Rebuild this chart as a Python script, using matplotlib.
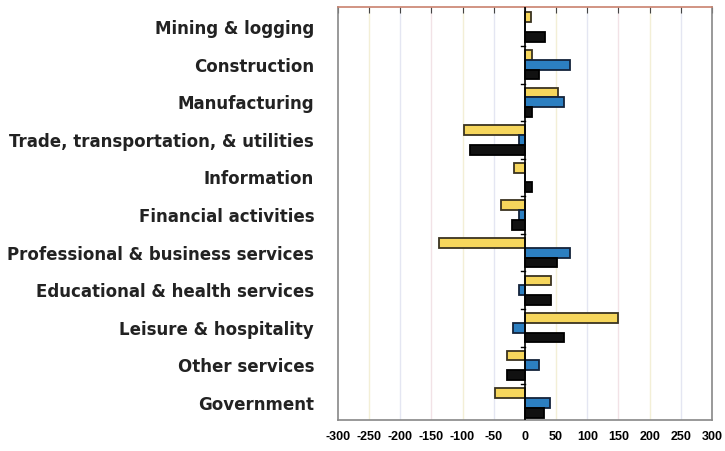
import matplotlib.pyplot as plt
import numpy as np

categories = ["Mining & logging", "Construction", "Manufacturing",
              "Trade, transportation, & utilities", "Information",
              "Financial activities", "Professional & business services",
              "Educational & health services", "Leisure & hospitality",
              "Other services", "Government"]
yellow_vals = [10, 12, 53, -97, -18, -38, -138, 42, 150, -28, -48]
blue_vals = [0, 73, 62, -9, 0, -9, 73, -9, -19, 22, 41]
black_vals = [33, 22, 12, -88, 12, -20, 51, 42, 62, -28, 31]
xticks = list(range(-300, 301, 50))

plt.rcParams['font.family'] = ['Liberation Sans', 'DejaVu Sans']

fig = plt.figure(figsize=(7.25, 4.51), dpi=100)
ax = fig.add_axes([0.466, 0.069, 0.516, 0.915])

y = np.arange(len(categories))
h = 0.26
ax.barh(y - h, yellow_vals, height=h, color='#f6d65c', edgecolor='#3a3320', linewidth=1.3, zorder=3)
ax.barh(y, blue_vals, height=h, color='#2c7fc1', edgecolor='#14233a', linewidth=1.3, zorder=3)
ax.barh(y + h, black_vals, height=h, color='#111111', edgecolor='#000000', linewidth=1.3, zorder=3)

grid_colors = ['#f3efd6', '#e4e6f2', '#f2e2e6']
for i, xv in enumerate(xticks[1:-1]):
    if xv != 0:
        ax.axvline(xv, color=grid_colors[i % 3], linewidth=1.0, zorder=1)
ax.axvline(0, color='black', linewidth=1.2, zorder=4)
for b in np.arange(len(categories) - 1) + 0.5:
    ax.plot([-6, 0], [b, b], color='black', linewidth=1.0, zorder=4)

ax.set_xlim(-300, 300)
ax.set_ylim(len(categories) - 0.55, -0.53)
ax.set_xticks(xticks)
ax.set_xticklabels([str(v) for v in xticks], fontsize=9, fontweight='bold')
ax.tick_params(axis='x', top=True, bottom=False, labelbottom=True, labeltop=False,
               direction='in', length=4, color='#444444', pad=8)
ax.set_yticks(y)
ax.set_yticklabels(categories, fontsize=12, fontweight='bold', color='#222222',
                   family='DejaVu Sans')
ax.tick_params(axis='y', length=0, pad=17)

for s in ['left', 'right', 'bottom']:
    ax.spines[s].set_color('#888888')
    ax.spines[s].set_linewidth(1.2)
ax.spines['top'].set_color('#c9826e')
ax.spines['top'].set_linewidth(1.2)

fig.savefig('out.png', dpi=100)
